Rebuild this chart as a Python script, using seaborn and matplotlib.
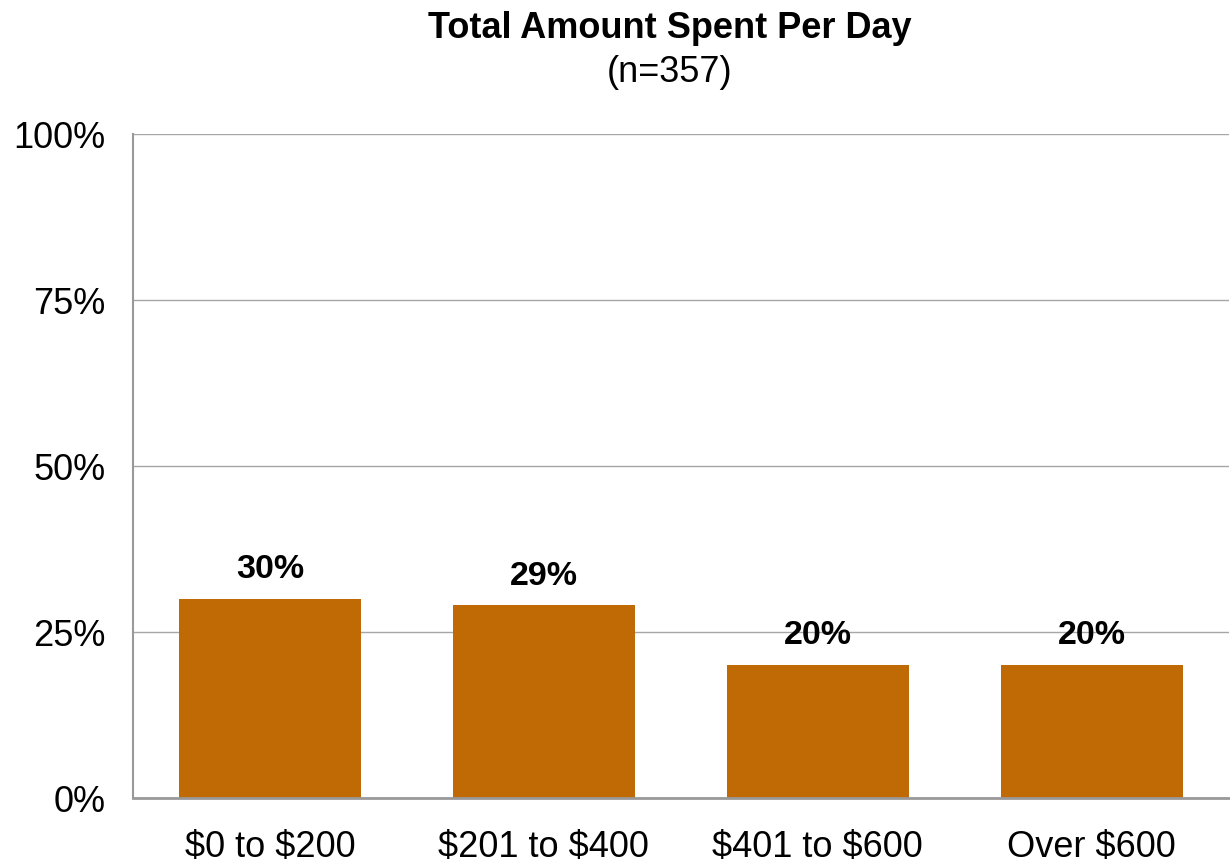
import matplotlib
matplotlib.use("Agg")
import matplotlib.pyplot as plt
import seaborn as sns
import pandas as pd

categories = ["$0 to $200", "$201 to $400", "$401 to $600", "Over $600"]
values = [30, 29, 20, 20]
yticks = [0, 25, 50, 75, 100]
ytick_labels = ["0%", "25%", "50%", "75%", "100%"]
title = "Total Amount Spent Per Day"
subtitle = "(n=357)"

sns.set_theme(style="white")
plt.rcParams["font.family"] = ["Liberation Sans", "DejaVu Sans"]
plt.rcParams["text.parse_math"] = False
plt.rcParams["text.color"] = "black"
plt.rcParams["xtick.color"] = "black"
plt.rcParams["ytick.color"] = "black"

df = pd.DataFrame({"cat": categories, "val": values})

fig = plt.figure(figsize=(12.3, 8.67), dpi=100)
ax = fig.add_axes([133/1230, 69/867, 1 - 133/1230 - 0.001, (798-134)/867])

sns.barplot(data=df, x="cat", y="val", color="#BF6A05", saturation=1, width=0.664,
            linewidth=0, ax=ax)

ax.set_ylim(0, 100)
ax.set_yticks(yticks)
ax.set_yticklabels(ytick_labels, fontsize=26)
ax.tick_params(axis="x", labelsize=26, pad=23, length=0, labelcolor="black")
ax.tick_params(axis="y", pad=20, length=0, labelcolor="black")
ax.set_xlabel("")
ax.set_ylabel("")
ax.yaxis.grid(True, color="#A6A6A6", linewidth=1)
ax.set_axisbelow(True)
for s in ["top", "right"]:
    ax.spines[s].set_visible(False)
ax.spines["left"].set_color("#999999")
ax.spines["left"].set_linewidth(1.5)
ax.spines["bottom"].set_color("#999999")
ax.spines["bottom"].set_linewidth(2)

for p, v in zip(ax.patches, values):
    ax.annotate(f"{v}%", (p.get_x() + p.get_width()/2, p.get_height()),
                xytext=(0, 10), textcoords="offset points",
                ha="center", va="bottom", fontsize=24.5, fontweight="bold", color="black")

cx = 670 / 1230
fig.text(cx, 1 - 28/867, title, ha="center", va="center", fontsize=26, fontweight="bold", color="black")
fig.text(cx, 1 - 73/867, subtitle, ha="center", va="center", fontsize=26, color="black")

fig.savefig("out.png", dpi=100)
